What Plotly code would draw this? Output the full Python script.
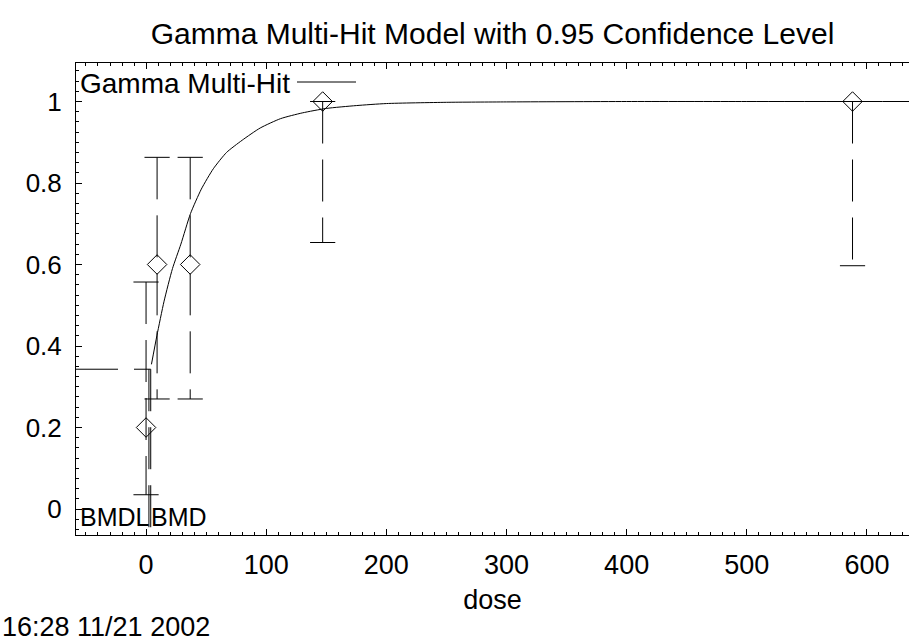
import plotly.graph_objects as go

# ---------------- data ----------------
dose = [0, 9.19, 36.75, 147, 588]
response = [0.2, 0.6, 0.6, 1.0, 1.0]
ci_lower = [0.035, 0.27, 0.27, 0.654, 0.597]
ci_upper = [0.557, 0.863, 0.863, 1.0, 1.0]

curve_dose = [4.5, 9, 15, 22, 29, 37, 46, 56, 67, 80, 95, 112, 130, 150, 175, 200, 250, 300, 400, 500, 640]
curve_resp = [0.355, 0.425, 0.51, 0.59, 0.65, 0.725, 0.785, 0.835, 0.875, 0.905, 0.935, 0.958, 0.972,
              0.983, 0.99, 0.995, 0.998, 0.999, 1.0, 1.0, 1.0]

bmr_level = 0.343
bmd = 3.9
bmdl = 2.4

x_ticks = [0, 100, 200, 300, 400, 500, 600]
y_ticks = [0, 0.2, 0.4, 0.6, 0.8, 1]
y_tick_labels = ["0", "0.2", "0.4", "0.6", "0.8", "1"]

title_text = "Gamma Multi-Hit Model with 0.95 Confidence Level"
legend_text = "Gamma Multi-Hit"
date_text = "16:28 11/21 2002"

x_range = [-58.3, 635.0]
y_range = [-0.0638, 1.0945]

# ---------------- layout geometry (pixels) ----------------
W, H = 909, 642
L, R, T, B = 76, 0, 63, 107
PW, PH = W - L - R, H - T - B


def px_x(p):
    return (p - L) / PW


def px_y(p):
    return (H - B - p) / PH


FONT = "Liberation Sans, Arial, sans-serif"
DASH = "42px,16px"

fig = go.Figure()

# error bars as dashed vertical segments (drawn top to bottom)
eb_x, eb_y = [], []
for d, lo, hi in zip(dose, ci_lower, ci_upper):
    eb_x += [d, d, None]
    eb_y += [hi, lo, None]
fig.add_trace(go.Scatter(x=eb_x, y=eb_y, mode="lines",
                         line=dict(color="black", width=1, dash=DASH),
                         hoverinfo="skip"))

# caps
fig.add_trace(go.Scatter(x=dose + dose, y=ci_lower + ci_upper, mode="markers",
                         marker=dict(symbol="line-ew-open", size=18, color="black",
                                     line=dict(color="black", width=1)),
                         hoverinfo="skip"))

# fitted curve
fig.add_trace(go.Scatter(x=curve_dose, y=curve_resp, mode="lines",
                         line=dict(color="black", width=1, shape="spline", smoothing=0.6),
                         name=legend_text))

# observed points
fig.add_trace(go.Scatter(x=dose, y=response, mode="markers",
                         marker=dict(symbol="diamond-open", size=15, color="black",
                                     line=dict(color="black", width=1)),
                         name="data"))

# BMD lines
fig.add_trace(go.Scatter(x=[x_range[0], bmd], y=[bmr_level, bmr_level], mode="lines",
                         line=dict(color="black", width=1, dash=DASH), hoverinfo="skip"))
fig.add_trace(go.Scatter(x=[bmd, bmd, None, bmdl, bmdl],
                         y=[bmr_level, y_range[0], None, bmr_level, y_range[0]], mode="lines",
                         line=dict(color="black", width=1, dash=DASH), hoverinfo="skip"))

fig.update_layout(
    width=W, height=H,
    margin=dict(l=L, r=R, t=T, b=B, autoexpand=False),
    paper_bgcolor="white", plot_bgcolor="white",
    showlegend=False,
    font=dict(family=FONT, color="black", size=26),
    title=dict(text=title_text, x=0.5, xref="paper", xanchor="center",
               y=1 - 33 / H, yref="container", yanchor="middle", automargin=False,
               font=dict(size=30, family=FONT, color="black")),
)

fig.update_xaxes(range=x_range, tickvals=x_ticks, ticktext=[str(v) for v in x_ticks],
                 ticks="inside", ticklen=6, tickcolor="black", tickwidth=1,
                 showline=True, linecolor="black", linewidth=1, mirror="ticks",
                 showgrid=False, zeroline=False, automargin=False,
                 ticklabelstandoff=6,
                 minor=dict(dtick=10, ticks="inside", ticklen=3, tickcolor="black", showgrid=False),
                 tickfont=dict(size=27),
                 title=dict(text="dose", font=dict(size=27), standoff=10))

fig.update_yaxes(range=y_range, tickvals=y_ticks, ticktext=y_tick_labels,
                 ticks="inside", ticklen=6, tickcolor="black", tickwidth=1,
                 showline=True, linecolor="black", linewidth=1, mirror=False,
                 showgrid=False, zeroline=False, automargin=False,
                 ticklabelstandoff=8,
                 minor=dict(dtick=0.025, ticks="inside", ticklen=3, tickcolor="black", showgrid=False),
                 tickfont=dict(size=26))

# legend replica
fig.add_annotation(text=legend_text, xref="paper", yref="paper",
                   x=px_x(78), y=px_y(83), xanchor="left", yanchor="middle",
                   showarrow=False, font=dict(size=28, family=FONT, color="black"))
fig.add_shape(type="line", xref="paper", yref="paper",
              x0=px_x(297), x1=px_x(356), y0=px_y(82), y1=px_y(82),
              line=dict(color="black", width=1))

# BMD labels
fig.add_annotation(text="BMDL", x=bmdl, y=y_range[0], xref="x", yref="y",
                   xanchor="right", yanchor="bottom", showarrow=False, xshift=3, yshift=2,
                   font=dict(size=25, family=FONT, color="black"))
fig.add_annotation(text="BMD", x=bmd, y=y_range[0], xref="x", yref="y",
                   xanchor="left", yanchor="bottom", showarrow=False, xshift=-2, yshift=2,
                   font=dict(size=25, family=FONT, color="black"))

# timestamp
fig.add_annotation(text=date_text, xref="paper", yref="paper",
                   x=px_x(0), y=px_y(627), xanchor="left", yanchor="middle",
                   showarrow=False, font=dict(size=27, family=FONT, color="black"))

fig.write_html("out.html", config={"displayModeBar": False},
               post_script="document.body.style.margin='0';document.body.style.overflow='hidden';")
